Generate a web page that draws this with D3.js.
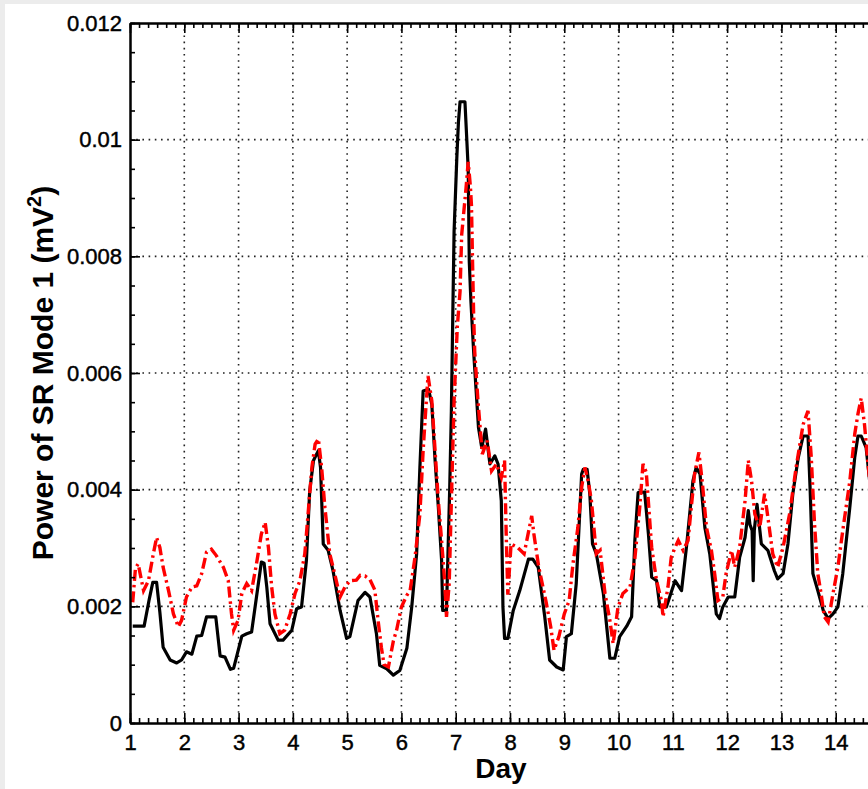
<!DOCTYPE html>
<html>
<head>
<meta charset="utf-8">
<script src="https://cdn.jsdelivr.net/npm/d3@7"></script>
<style>
  html, body { margin: 0; padding: 0; background: #ececec; }
  svg { display: block; }
  text { font-family: "Liberation Sans", Arial, sans-serif; }
</style>
</head>
<body>
<svg id="chart" width="868" height="789"></svg>
<script>
// ---- data ----
const dayTicks = [1, 2, 3, 4, 5, 6, 7, 8, 9, 10, 11, 12, 13, 14];
const powerTicks = [0, 0.002, 0.004, 0.006, 0.008, 0.01, 0.012];
const powerTickLabels = ["0", "0.002", "0.004", "0.006", "0.008", "0.01", "0.012"];

const blackDays = [1.05,1.26,1.35,1.42,1.49,1.55,1.61,1.74,1.86,1.95,2.04,2.14,2.23,2.32,2.41,2.58,2.66,2.75,2.85,2.91,
  3.06,3.15,3.24,3.33,3.42,3.47,3.52,3.58,3.73,3.82,3.98,4.07,4.16,4.25,4.31,4.38,4.47,4.51,4.56,4.65,4.74,4.87,4.99,
  5.05,5.20,5.33,5.42,5.54,5.60,5.73,5.85,5.97,6.10,6.19,6.28,6.34,6.40,6.50,6.56,6.62,6.68,6.74,6.76,6.83,6.86,6.89,
  6.92,6.95,6.97,7.02,7.05,7.08,7.17,7.20,7.23,7.25,7.28,7.33,7.42,7.48,7.55,7.63,7.72,7.78,7.84,7.87,7.90,7.96,8.06,
  8.18,8.34,8.42,8.52,8.64,8.73,8.86,8.98,9.04,9.13,9.22,9.32,9.35,9.42,9.47,9.52,9.59,9.72,9.84,9.93,10.02,10.15,10.24,
  10.30,10.36,10.48,10.55,10.61,10.70,10.76,10.88,11.04,11.16,11.25,11.37,11.43,11.50,11.59,11.68,11.80,11.86,11.92,
  12.02,12.14,12.23,12.33,12.39,12.42,12.46,12.48,12.50,12.55,12.63,12.75,12.87,12.93,13.03,13.12,13.21,13.31,13.40,
  13.49,13.53,13.58,13.67,13.77,13.86,13.95,14.04,14.13,14.26,14.35,14.41,14.47,14.56,14.62,14.70];
const blackPower = [0.00166,0.00166,0.0021,0.00241,0.00241,0.0019,0.0013,0.00108,0.00103,0.00108,0.00122,0.00118,0.00149,
  0.0015,0.00182,0.00182,0.00115,0.00113,0.00092,0.00094,0.00149,0.00153,0.00156,0.00216,0.00276,0.00274,0.00233,0.0017,
  0.00142,0.00142,0.00159,0.00196,0.00199,0.00279,0.00398,0.0045,0.00467,0.00438,0.00307,0.00296,0.00261,0.00193,0.00145,
  0.00148,0.0021,0.00224,0.00216,0.00153,0.00099,0.00093,0.00082,0.0009,0.00128,0.00199,0.0029,0.00438,0.00569,0.00572,
  0.00546,0.0045,0.0037,0.00279,0.00193,0.00193,0.0030,0.00404,0.00535,0.00723,0.00843,0.00968,0.0103,0.01065,0.01065,
  0.01008,0.0095,0.00791,0.00723,0.00637,0.00506,0.00472,0.00504,0.00444,0.00458,0.00444,0.00381,0.00199,0.00145,0.00145,
  0.00193,0.00227,0.00281,0.00281,0.00267,0.00182,0.00108,0.00096,0.00091,0.00148,0.00153,0.00239,0.00427,0.00435,0.00435,
  0.00393,0.00307,0.0029,0.00222,0.00111,0.00111,0.00148,0.00166,0.00182,0.00313,0.00395,0.00396,0.00324,0.0025,0.00244,
  0.00199,0.00199,0.00244,0.00227,0.00301,0.00415,0.00438,0.00427,0.00335,0.0029,0.00187,0.00179,0.00199,0.00216,0.00216,
  0.00284,0.00318,0.00364,0.0034,0.0033,0.00244,0.0033,0.00375,0.00307,0.00296,0.00261,0.00247,0.00256,0.00307,0.00393,
  0.00455,0.00492,0.00492,0.00398,0.00256,0.00227,0.00193,0.00179,0.00187,0.00199,0.00256,0.0037,0.00455,0.00492,0.00492,
  0.00472,0.0042,0.0034];

const redDays = [1.05,1.10,1.15,1.25,1.34,1.43,1.49,1.55,1.61,1.71,1.80,1.89,1.95,2.04,2.14,2.23,2.32,2.41,2.50,2.59,2.72,
  2.81,2.87,2.91,2.99,3.06,3.15,3.24,3.33,3.42,3.49,3.55,3.61,3.67,3.76,3.85,3.95,4.04,4.13,4.22,4.28,4.35,4.41,4.47,4.53,
  4.59,4.68,4.77,4.87,4.96,5.05,5.17,5.24,5.33,5.42,5.51,5.57,5.63,5.68,5.76,5.85,5.91,6.00,6.10,6.16,6.25,6.34,6.40,6.45,
  6.49,6.56,6.62,6.68,6.74,6.80,6.83,6.88,6.92,6.97,7.03,7.08,7.11,7.19,7.23,7.27,7.29,7.31,7.33,7.35,7.41,7.49,7.58,7.66,
  7.75,7.84,7.90,7.93,7.96,8.02,8.14,8.26,8.40,8.44,8.53,8.66,8.75,8.81,8.90,9.00,9.09,9.16,9.25,9.32,9.38,9.44,9.50,9.59,
  9.66,9.75,9.84,9.90,9.99,10.08,10.21,10.30,10.39,10.45,10.51,10.61,10.70,10.79,10.82,10.91,10.97,11.04,11.10,11.19,11.28,
  11.34,11.40,11.48,11.54,11.62,11.71,11.77,11.83,11.92,11.98,12.08,12.14,12.23,12.33,12.39,12.45,12.51,12.60,12.69,12.75,
  12.84,12.93,13.03,13.15,13.27,13.40,13.49,13.55,13.61,13.67,13.73,13.79,13.86,13.95,14.04,14.13,14.26,14.35,14.41,14.47,
  14.53,14.59,14.66];
const redPower = [0.00207,0.00265,0.00273,0.00227,0.00244,0.0029,0.00318,0.00301,0.00267,0.00227,0.00187,0.00165,0.00176,
  0.00216,0.00233,0.00235,0.00256,0.00293,0.00298,0.00287,0.00267,0.00244,0.00187,0.00159,0.00176,0.00222,0.00239,0.00227,
  0.00273,0.00324,0.00344,0.00301,0.00233,0.00187,0.00153,0.00159,0.00187,0.00222,0.00244,0.0029,0.00358,0.00438,0.00478,
  0.00487,0.00438,0.0037,0.0029,0.00256,0.00216,0.00233,0.00244,0.00245,0.00253,0.00252,0.00246,0.00228,0.00176,0.0013,
  0.001,0.00096,0.0014,0.00159,0.00199,0.00219,0.00227,0.00284,0.00358,0.00467,0.0054,0.00595,0.00552,0.00467,0.00381,
  0.00313,0.00239,0.00182,0.00239,0.0038,0.00552,0.0068,0.0074,0.00837,0.00917,0.00962,0.0092,0.00888,0.00791,0.0070,
  0.00637,0.00552,0.00461,0.00484,0.00432,0.00444,0.00421,0.0045,0.00324,0.0022,0.00307,0.00301,0.0029,0.00355,0.00324,
  0.00267,0.0021,0.00165,0.00125,0.00148,0.00187,0.0021,0.00273,0.00335,0.00404,0.00438,0.00415,0.00381,0.0029,0.00296,
  0.00222,0.00176,0.00136,0.00199,0.00222,0.00233,0.00282,0.0037,0.00444,0.0043,0.00301,0.00244,0.0021,0.00182,0.00233,
  0.00284,0.00301,0.00313,0.00296,0.00313,0.0037,0.00427,0.00464,0.00415,0.00335,0.00296,0.00256,0.0021,0.00216,0.00256,
  0.00296,0.00267,0.00301,0.00381,0.0045,0.00415,0.00358,0.00335,0.00393,0.00353,0.0029,0.00267,0.00301,0.00358,0.00438,
  0.00512,0.00535,0.00455,0.00341,0.00256,0.00222,0.00182,0.00173,0.00222,0.00267,0.0033,0.00415,0.00495,0.0053,0.00557,
  0.00512,0.0045,0.0038];

// ---- layout ----
const svg = d3.select("#chart");
const W = 868, H = 789;
const pL = 130, pT = 23, pB = 723, pR = 890;

svg.append("rect").attr("x", 5).attr("y", 4).attr("width", W - 5).attr("height", H - 4).attr("fill", "#ffffff");

const x = d3.scaleLinear().domain([1, 15]).range([pL, pR]);
const y = d3.scaleLinear().domain([0, 0.012]).range([pB, pT]);

// grid
const grid = svg.append("g").attr("stroke", "#222").attr("stroke-width", 1.6).attr("stroke-dasharray", "1.6,4.6");
grid.selectAll("line.v").data(dayTicks.filter(d => d > 1)).join("line").attr("class", "v")
  .attr("x1", d => x(d)).attr("x2", d => x(d)).attr("y1", pT).attr("y2", pB);
grid.selectAll("line.h").data(powerTicks.filter(d => d > 0 && d < 0.012)).join("line").attr("class", "h")
  .attr("x1", pL).attr("x2", pR).attr("y1", d => y(d)).attr("y2", d => y(d));

// clip for lines
svg.append("clipPath").attr("id", "clip").append("rect")
  .attr("x", pL).attr("y", pT).attr("width", pR - pL).attr("height", pB - pT);

const blackData = blackDays.map((d, i) => [d, blackPower[i]]);
const redData = redDays.map((d, i) => [d, redPower[i]]);
const line = d3.line().x(d => x(d[0])).y(d => y(d[1]));

const plot = svg.append("g").attr("clip-path", "url(#clip)");
plot.append("path").datum(blackData).attr("d", line)
  .attr("fill", "none").attr("stroke", "#000").attr("stroke-width", 3.2).attr("stroke-linejoin", "round");
plot.append("path").datum(redData).attr("d", line)
  .attr("fill", "none").attr("stroke", "#ff0000").attr("stroke-width", 3.4)
  .attr("stroke-dasharray", "11,4,2.5,4");

// axes
const minorDays = d3.range(0, 14 * 6 + 1).map(i => 1 + i / 6);
const minorPower = d3.range(0, 25).map(i => i * 0.0005);

function styleAxis(g) {
  g.selectAll(".domain").attr("stroke", "#000").attr("stroke-width", 2);
  g.selectAll(".tick line").attr("stroke", "#000").attr("stroke-width", 1.6);
  g.selectAll("text").attr("font-size", 22).attr("fill", "#000")
    .attr("stroke", "#000").attr("stroke-width", 0.45)
    .attr("font-family", "'Liberation Sans', Arial, sans-serif");
}

// bottom
svg.append("g").attr("transform", `translate(0,${pB})`)
  .call(d3.axisBottom(x).tickValues(minorDays).tickSizeInner(-5).tickSizeOuter(0).tickFormat(""))
  .call(styleAxis);
svg.append("g").attr("transform", `translate(0,${pB})`)
  .call(d3.axisBottom(x).tickValues(dayTicks).tickSizeInner(-10).tickSizeOuter(0).tickPadding(11).tickFormat(d3.format("d")))
  .call(styleAxis);

// top
svg.append("g").attr("transform", `translate(0,${pT})`)
  .call(d3.axisTop(x).tickValues(minorDays).tickSizeInner(-5).tickSizeOuter(0).tickFormat(""))
  .call(styleAxis);
svg.append("g").attr("transform", `translate(0,${pT})`)
  .call(d3.axisTop(x).tickValues(dayTicks).tickSizeInner(-10).tickSizeOuter(0).tickFormat(""))
  .call(styleAxis);

// left
svg.append("g").attr("transform", `translate(${pL},0)`)
  .call(d3.axisLeft(y).tickValues(minorPower).tickSizeInner(-5).tickSizeOuter(0).tickFormat(""))
  .call(styleAxis);
svg.append("g").attr("transform", `translate(${pL},0)`)
  .call(d3.axisLeft(y).tickValues(powerTicks).tickSizeInner(-10).tickSizeOuter(0).tickPadding(8)
    .tickFormat((d, i) => powerTickLabels[i]))
  .call(styleAxis);

// axis labels
svg.append("text")
  .attr("x", 501).attr("y", 778)
  .attr("text-anchor", "middle").attr("font-size", 28).attr("font-weight", "bold")
  .text("Day");

const yl = svg.append("text")
  .attr("transform", `translate(53,${(pT + pB) / 2}) rotate(-90)`)
  .attr("text-anchor", "middle").attr("font-size", 30).attr("font-weight", "bold");
yl.append("tspan").text("Power of SR Mode 1 (mV");
yl.append("tspan").attr("font-size", 20).attr("dy", -12).text("2");
yl.append("tspan").attr("dy", 12).text(")");
</script>
</body>
</html>
